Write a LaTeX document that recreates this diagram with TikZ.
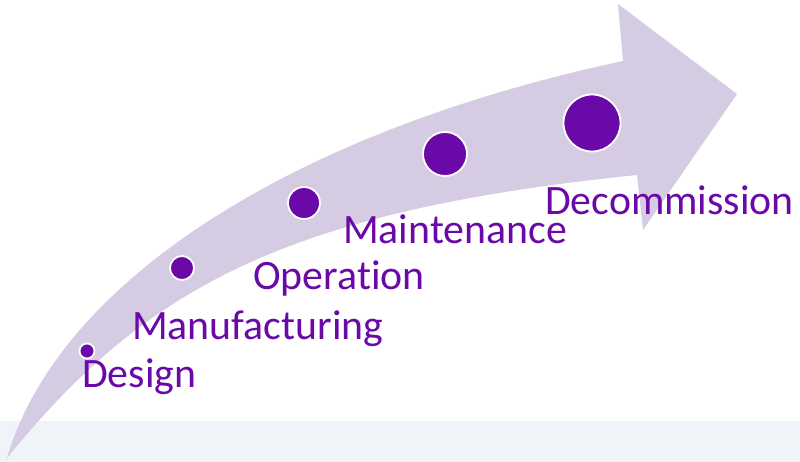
\documentclass[tikz,border=0pt]{standalone}
\usepackage{fontspec}
\setmainfont{Carlito}[Ligatures={NoCommon}]
\definecolor{stagepurple}{RGB}{106,8,168}
\definecolor{arrowlav}{RGB}{213,204,227}
\definecolor{bandgray}{RGB}{240,243,247}
\begin{document}
\begin{tikzpicture}[x=1pt,y=-1pt,
  dot/.style={circle,fill=stagepurple,draw=white,line width=1.8pt,inner sep=0pt},
  lbl/.style={anchor=base west,inner sep=0pt,text=stagepurple,font=\fontsize{41.8}{44}\selectfont}]
\useasboundingbox (0,0) rectangle (800,462);
\fill[white] (0,0) rectangle (800,462);
\fill[bandgray] (0,421) rectangle (800,462);
% curved arrow
\fill[arrowlav] (7,458) .. controls (56.5,287) and (283,133.6) .. (623,61)
  -- (618,4) -- (737,94) -- (643,230) -- (637,175)
  .. controls (286,211) and (146,287) .. (7,458) -- cycle;
% stages
\node[dot,minimum size=15pt] (d1) at (87,351) {};
\node[dot,minimum size=24pt] (d2) at (182,268) {};
\node[dot,minimum size=32pt] (d3) at (304,203) {};
\node[dot,minimum size=44pt] (d4) at (445,154) {};
\node[dot,minimum size=57pt] (d5) at (592,123) {};
\node[lbl] (t1) at (82,387) {Design};
\node[lbl] (t2) at (132,339) {Manufacturing};
\node[lbl] (t3) at (253,289) {Operation};
\node[lbl] (t4) at (343,244) {Maintenance};
\node[lbl] (t5) at (545,215) {Decommission};
\end{tikzpicture}
\end{document}
